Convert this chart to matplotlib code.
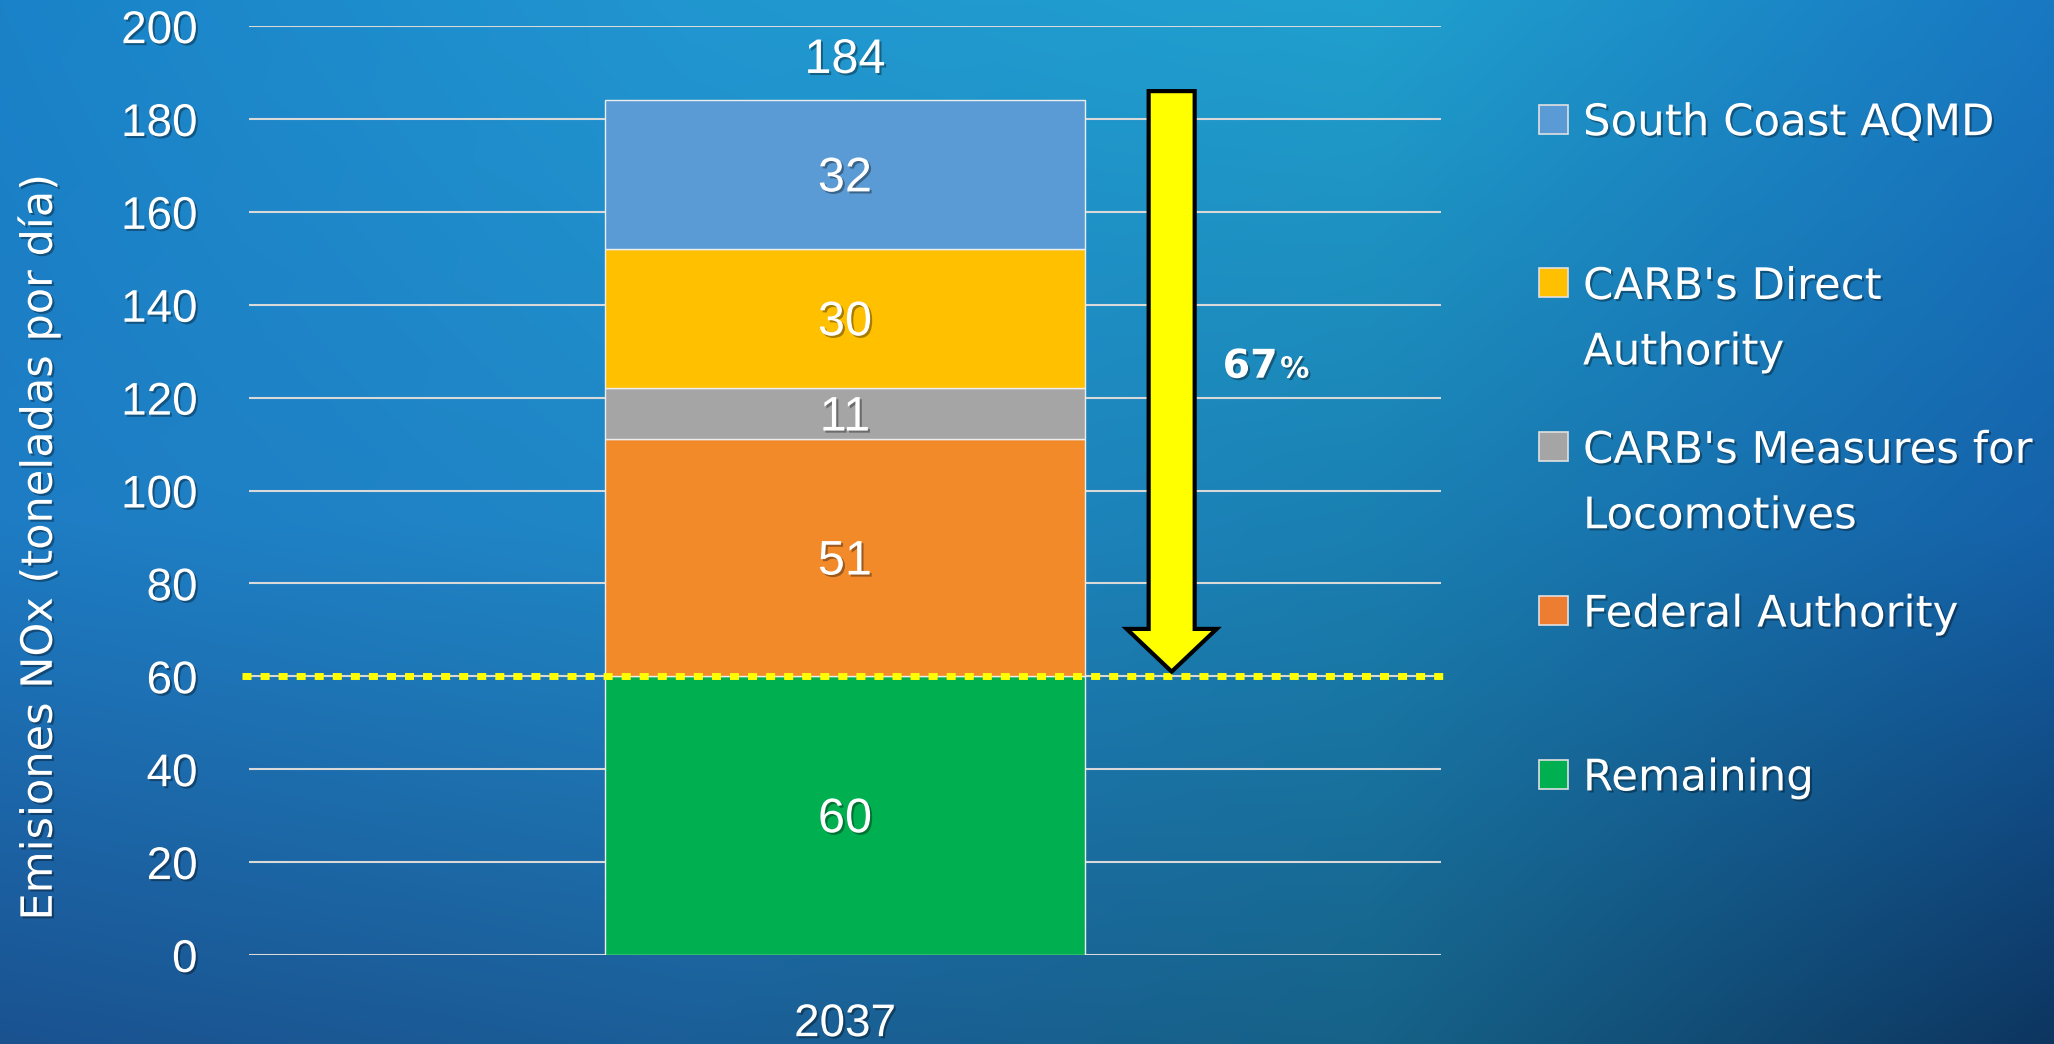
import numpy as np
import matplotlib
matplotlib.use("Agg")
import matplotlib.pyplot as plt
from matplotlib import patheffects as pe
from matplotlib import font_manager as fm
from matplotlib.patches import Rectangle, FancyArrow
from matplotlib.colors import to_rgb

# ---------------- data ----------------
categories = ["2037"]
series_names = ["Remaining", "Federal Authority", "CARB's Measures for Locomotives",
                "CARB's Direct Authority", "South Coast AQMD"]
legend_labels = ["Remaining", "Federal Authority", "CARB's Measures for\nLocomotives",
                 "CARB's Direct\nAuthority", "South Coast AQMD"]
values = [60, 51, 11, 30, 32]
bar_colors = ["#00B050", "#F28A2A", "#A5A5A5", "#FFC000", "#5B9BD5"]
legend_colors = ["#00B050", "#ED7D31", "#A5A5A5", "#FFC000", "#5B9BD5"]
total_label = "184"
target_level = 60
reduction_pct = "67"
yticks = [0, 20, 40, 60, 80, 100, 120, 140, 160, 180, 200]
ylabel = "Emisiones NOx (toneladas por día)"


def pick(*names):
    for n in names:
        try:
            fm.findfont(fm.FontProperties(family=n), fallback_to_default=False)
            return n
        except Exception:
            continue
    return "DejaVu Sans"


narrow = pick("Liberation Sans Narrow", "Liberation Sans")
wide = "DejaVu Sans"
shadow = [pe.withSimplePatchShadow(offset=(1.5, -1.5), shadow_rgbFace="black", alpha=0.35)]

fig = plt.figure(figsize=(20.54, 10.44), dpi=100)

# ---------------- background gradient ----------------
grid_cols = [
    ["#1A82C8", "#2196D0", "#20A0CE", "#1878C2"],
    ["#1E7CC4", "#2088C6", "#1A80B2", "#1562AA"],
    ["#1A5290", "#1B5E98", "#166288", "#0D3560"],
]
g = np.array([[to_rgb(c) for c in row] for row in grid_cols])
H, W = 260, 520
yy = np.linspace(0, g.shape[0] - 1, H)
xx = np.linspace(0, g.shape[1] - 1, W)
tmp = np.empty((g.shape[0], W, 3))
for r in range(g.shape[0]):
    for k in range(3):
        tmp[r, :, k] = np.interp(xx, np.arange(g.shape[1]), g[r, :, k])
img = np.empty((H, W, 3))
for cidx in range(W):
    for k in range(3):
        img[:, cidx, k] = np.interp(yy, np.arange(g.shape[0]), tmp[:, cidx, k])
bg = fig.add_axes([0, 0, 1, 1], zorder=0)
bg.imshow(img, extent=[0, 1, 0, 1], aspect="auto", interpolation="bilinear")
bg.set_axis_off()

# ---------------- main axes ----------------
ax = fig.add_axes([0.1212, 0.0853, 0.5804, 0.8897], zorder=1)
ax.set_facecolor("none")
for s in ax.spines.values():
    s.set_visible(False)
ax.set_xlim(-0.5, 0.5)
ax.set_ylim(0, 200)
ax.set_yticks(yticks)
ax.grid(axis="y", color="#D9D9D9", linewidth=1.5)
ax.set_axisbelow(True)
ax.tick_params(axis="y", length=0, pad=37, labelcolor="white", labelsize=33)
ax.tick_params(axis="x", length=0, pad=34, labelcolor="white", labelsize=33)
ax.set_xticks(range(len(categories)))
ax.set_xticklabels(categories)
for lab in ax.get_yticklabels() + ax.get_xticklabels():
    lab.set_fontfamily(narrow)
    lab.set_path_effects(shadow)

bar_width = 0.402
bottom = 0
for v, c in zip(values, bar_colors):
    ax.bar(0, v, bottom=bottom, width=bar_width, color=c, edgecolor="#EDEDED",
           linewidth=1.0, zorder=2)
    ax.text(0, bottom + v / 2 - 0.9, str(v), ha="center", va="center", color="white",
            fontsize=35, fontfamily=narrow, zorder=5, path_effects=shadow)
    bottom += v
ax.text(0, bottom + 8.6, total_label, ha="center", va="center", color="white",
        fontsize=35, fontfamily=narrow, zorder=5, path_effects=shadow)

# target dotted line
ax.axhline(target_level, xmin=-0.006, xmax=1.004, clip_on=False, color="#FFFF00",
           linewidth=5.0, dashes=(1.3, 1.3), dash_capstyle="butt", zorder=3)

# reduction arrow
arrow_x = 0.274
arr_top = bottom + 2
arr_tip = target_level + 1
arrow = FancyArrow(arrow_x, arr_top, 0, -(arr_top - arr_tip), width=0.0386,
                   head_width=0.0755, head_length=9.2, length_includes_head=True,
                   facecolor="#FFFF00", edgecolor="black", linewidth=3,
                   joinstyle="miter", zorder=4)
ax.add_patch(arrow)
ax.text(0.363, 124.3, reduction_pct, ha="right", va="baseline", color="white",
        fontsize=28.5, fontweight="bold", fontfamily=wide, path_effects=shadow, zorder=5)
ax.text(0.365, 124.3, "%", ha="left", va="baseline", color="white",
        fontsize=21, fontweight="bold", fontfamily=wide, path_effects=shadow, zorder=5)

# y label
fig.text(0.019, 0.475, ylabel, rotation=90, ha="center", va="center", color="white",
         fontsize=31, fontfamily=wide, path_effects=shadow)

# ---------------- legend ----------------
sq_x, sq_w, sq_h = 0.7493, 0.01412, 0.0278
txt_x = 0.7707
y0, step, line_step = 0.886, 0.1569, 0.0627
for i, (lab, c) in enumerate(zip(legend_labels[::-1], legend_colors[::-1])):
    yc = y0 - i * step
    fig.patches.append(Rectangle((sq_x, yc - sq_h / 2), sq_w, sq_h, transform=fig.transFigure,
                                 facecolor=c, edgecolor="#E0E0E0", linewidth=1.2, zorder=3))
    for j, line in enumerate(lab.split("\n")):
        fig.text(txt_x, yc - 0.0155 - j * line_step, line, ha="left", va="baseline",
                 color="white", fontsize=31.3, fontfamily=wide, path_effects=shadow, zorder=3)

fig.savefig("out.png", dpi=100)
